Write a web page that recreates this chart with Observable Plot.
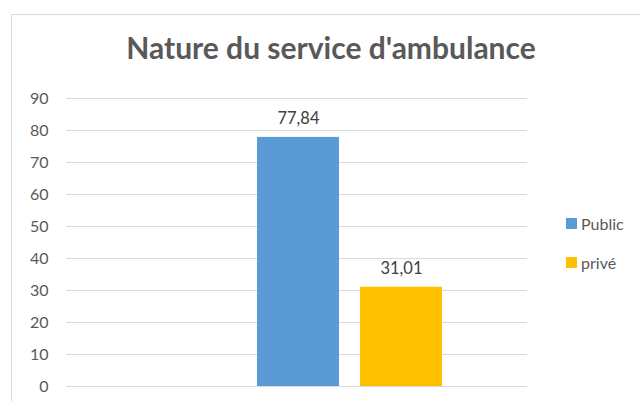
<!DOCTYPE html>
<html>
<head>
<meta charset="utf-8">
<script src="https://cdn.jsdelivr.net/npm/d3@7"></script>
<script src="https://cdn.jsdelivr.net/npm/@observablehq/plot@0.6"></script>
<style>
  html, body { margin: 0; padding: 0; background: #fff; }
  #wrap { position: relative; width: 640px; height: 401px; overflow: hidden; font-family: Lato, "Open Sans", sans-serif; }
  #frame { position: absolute; left: 11px; top: 14px; width: 700px; height: 500px; border: 1px solid #d9d9d9; box-sizing: border-box; }
  #title { position: absolute; left: 0; width: 662px; top: 29px; text-align: center; font-size: 30px; font-weight: bold; color: #595959; }
  #chart { position: absolute; left: 0; top: 0; }
  .leg { position: absolute; left: 566px; font-size: 16px; color: #595959; display: flex; align-items: center; }
  .leg span.sw { width: 11px; height: 11px; display: inline-block; margin-right: 4px; }
</style>
</head>
<body>
<div id="wrap">
  <div id="frame"></div>
  <div id="chart"></div>
  <div id="title"></div>
  <div id="legend"></div>
</div>
<script>
const title = "Nature du service d'ambulance";
const seriesDomain = ["", "Public", "privé"];
const series = ["Public", "privé"];
const values = [77.84, 31.01];
const colors = ["#5B9BD5", "#FFC000"];
const yTicks = [0, 10, 20, 30, 40, 50, 60, 70, 80, 90];

const data = series.map((s, i) => ({series: s, value: values[i]}));
const fmt = v => v.toFixed(2).replace(".", ",");

document.getElementById("title").textContent = title;

const plot = Plot.plot({
  width: 640,
  height: 401,
  marginLeft: 66,
  marginRight: 113,
  marginTop: 98,
  marginBottom: 15,
  style: {fontFamily: "Lato, 'Open Sans', sans-serif", fontSize: "16px", color: "#595959", background: "transparent"},
  x: {domain: seriesDomain, paddingInner: 0.2, paddingOuter: 0.82, align: 0.512, axis: null},
  y: {domain: [0, 90], ticks: yTicks},
  color: {domain: series, range: colors},
  marks: [
    Plot.ruleY(yTicks, {stroke: "#d9d9d9", strokeWidth: 1}),
    Plot.axisY({ticks: yTicks, tickSize: 0, tickPadding: 18, label: null, fill: "#595959", fontSize: 16}),
    Plot.barY(data, {x: "series", y: "value", fill: "series"}),
    Plot.text(data, {x: "series", y: "value", text: d => fmt(d.value), dy: -19, fill: "#404040", fontSize: 16.5})
  ]
});
document.getElementById("chart").appendChild(plot);

const leg = document.getElementById("legend");
const legTops = [214, 253];
series.forEach((s, i) => {
  const d = document.createElement("div");
  d.className = "leg";
  d.style.top = legTops[i] + "px";
  d.innerHTML = `<span class="sw" style="background:${colors[i]}"></span><span>${s}</span>`;
  leg.appendChild(d);
});
</script>
</body>
</html>
